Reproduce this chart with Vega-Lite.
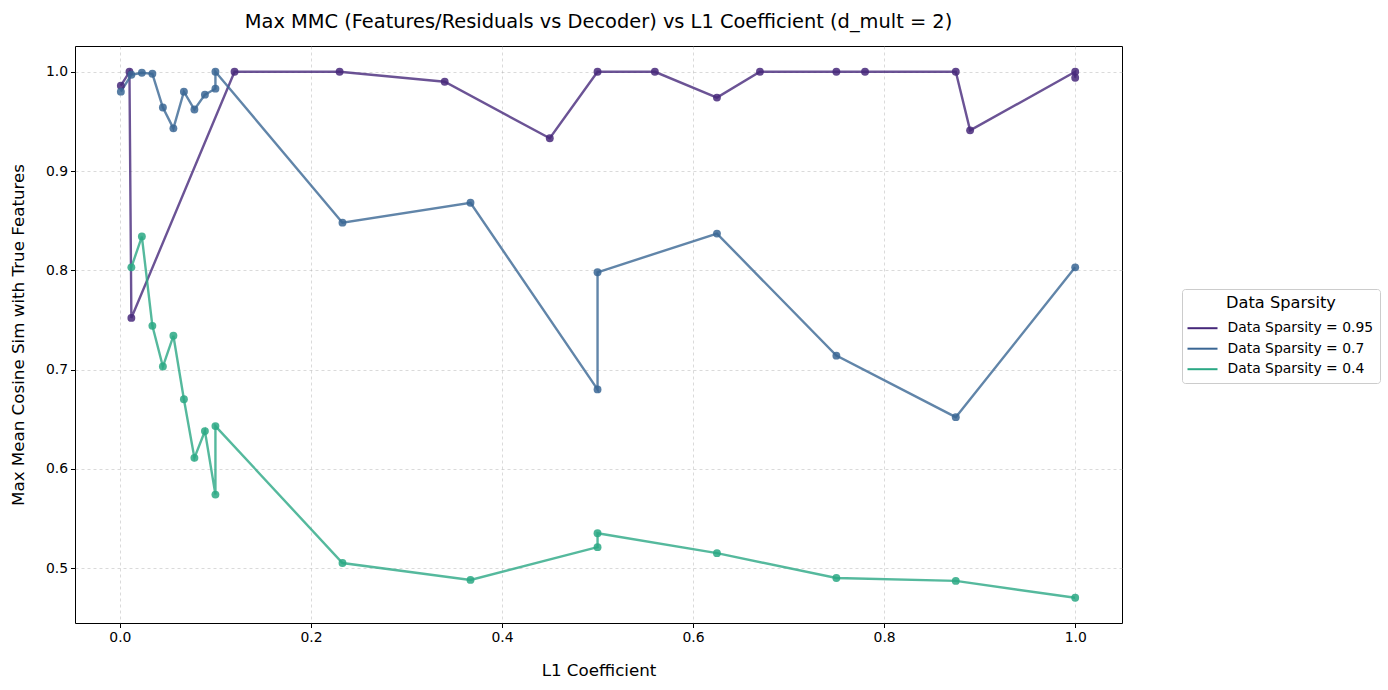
{
  "$schema": "https://vega.github.io/schema/vega-lite/v6.json",
  "autosize": {"type": "none"},
  "width": 1047,
  "height": 577,
  "padding": {"left": 75, "top": 46, "right": 266, "bottom": 67},
  "background": "white",
  "title": {"text": "Max MMC (Features/Residuals vs Decoder) vs L1 Coefficient (d_mult = 2)", "fontSize": 19.4, "fontWeight": "normal", "font": "DejaVu Sans", "color": "black", "anchor": "middle", "offset": 14},
  "config": {
    "view": {"stroke": "black", "strokeWidth": 1},
    "font": "DejaVu Sans",
    "axis": {"labelFont": "DejaVu Sans", "titleFont": "DejaVu Sans", "labelFontSize": 13.9, "titleFontSize": 16.7, "titleFontWeight": "normal", "labelColor": "black", "titleColor": "black", "tickColor": "black", "tickSize": 4.5, "labelPadding": 3, "domain": false, "grid": true, "gridColor": "#b0b0b0", "gridDash": [3, 3], "gridWidth": 0.6, "gridOpacity": 0.8}
  },
  "data": {"values": [
    {"s": "Data Sparsity = 0.95", "i": 1, "x": 0.001, "y": 0.986},
    {"s": "Data Sparsity = 0.95", "i": 2, "x": 0.010, "y": 1.0},
    {"s": "Data Sparsity = 0.95", "i": 3, "x": 0.012, "y": 0.752},
    {"s": "Data Sparsity = 0.95", "i": 4, "x": 0.120, "y": 1.0},
    {"s": "Data Sparsity = 0.95", "i": 5, "x": 0.230, "y": 1.0},
    {"s": "Data Sparsity = 0.95", "i": 6, "x": 0.340, "y": 0.990},
    {"s": "Data Sparsity = 0.95", "i": 7, "x": 0.450, "y": 0.933},
    {"s": "Data Sparsity = 0.95", "i": 8, "x": 0.500, "y": 1.0},
    {"s": "Data Sparsity = 0.95", "i": 9, "x": 0.560, "y": 1.0},
    {"s": "Data Sparsity = 0.95", "i": 10, "x": 0.625, "y": 0.974},
    {"s": "Data Sparsity = 0.95", "i": 11, "x": 0.670, "y": 1.0},
    {"s": "Data Sparsity = 0.95", "i": 12, "x": 0.750, "y": 1.0},
    {"s": "Data Sparsity = 0.95", "i": 13, "x": 0.780, "y": 1.0},
    {"s": "Data Sparsity = 0.95", "i": 14, "x": 0.875, "y": 1.0},
    {"s": "Data Sparsity = 0.95", "i": 15, "x": 0.890, "y": 0.941},
    {"s": "Data Sparsity = 0.95", "i": 16, "x": 1.000, "y": 1.0},
    {"s": "Data Sparsity = 0.95", "i": 17, "x": 1.000, "y": 0.994},
    {"s": "Data Sparsity = 0.7", "i": 1, "x": 0.001, "y": 0.980},
    {"s": "Data Sparsity = 0.7", "i": 2, "x": 0.012, "y": 0.997},
    {"s": "Data Sparsity = 0.7", "i": 3, "x": 0.023, "y": 0.999},
    {"s": "Data Sparsity = 0.7", "i": 4, "x": 0.034, "y": 0.998},
    {"s": "Data Sparsity = 0.7", "i": 5, "x": 0.045, "y": 0.964},
    {"s": "Data Sparsity = 0.7", "i": 6, "x": 0.056, "y": 0.943},
    {"s": "Data Sparsity = 0.7", "i": 7, "x": 0.067, "y": 0.980},
    {"s": "Data Sparsity = 0.7", "i": 8, "x": 0.078, "y": 0.962},
    {"s": "Data Sparsity = 0.7", "i": 9, "x": 0.089, "y": 0.977},
    {"s": "Data Sparsity = 0.7", "i": 10, "x": 0.100, "y": 0.983},
    {"s": "Data Sparsity = 0.7", "i": 11, "x": 0.100, "y": 1.0},
    {"s": "Data Sparsity = 0.7", "i": 12, "x": 0.233, "y": 0.848},
    {"s": "Data Sparsity = 0.7", "i": 13, "x": 0.367, "y": 0.868},
    {"s": "Data Sparsity = 0.7", "i": 14, "x": 0.500, "y": 0.680},
    {"s": "Data Sparsity = 0.7", "i": 15, "x": 0.500, "y": 0.798},
    {"s": "Data Sparsity = 0.7", "i": 16, "x": 0.625, "y": 0.837},
    {"s": "Data Sparsity = 0.7", "i": 17, "x": 0.750, "y": 0.714},
    {"s": "Data Sparsity = 0.7", "i": 18, "x": 0.875, "y": 0.652},
    {"s": "Data Sparsity = 0.7", "i": 19, "x": 1.000, "y": 0.803},
    {"s": "Data Sparsity = 0.4", "i": 1, "x": 0.012, "y": 0.803},
    {"s": "Data Sparsity = 0.4", "i": 2, "x": 0.023, "y": 0.834},
    {"s": "Data Sparsity = 0.4", "i": 3, "x": 0.034, "y": 0.744},
    {"s": "Data Sparsity = 0.4", "i": 4, "x": 0.045, "y": 0.703},
    {"s": "Data Sparsity = 0.4", "i": 5, "x": 0.056, "y": 0.734},
    {"s": "Data Sparsity = 0.4", "i": 6, "x": 0.067, "y": 0.670},
    {"s": "Data Sparsity = 0.4", "i": 7, "x": 0.078, "y": 0.611},
    {"s": "Data Sparsity = 0.4", "i": 8, "x": 0.089, "y": 0.638},
    {"s": "Data Sparsity = 0.4", "i": 9, "x": 0.100, "y": 0.574},
    {"s": "Data Sparsity = 0.4", "i": 10, "x": 0.100, "y": 0.643},
    {"s": "Data Sparsity = 0.4", "i": 11, "x": 0.233, "y": 0.505},
    {"s": "Data Sparsity = 0.4", "i": 12, "x": 0.367, "y": 0.488},
    {"s": "Data Sparsity = 0.4", "i": 13, "x": 0.500, "y": 0.521},
    {"s": "Data Sparsity = 0.4", "i": 14, "x": 0.500, "y": 0.535},
    {"s": "Data Sparsity = 0.4", "i": 15, "x": 0.625, "y": 0.515},
    {"s": "Data Sparsity = 0.4", "i": 16, "x": 0.750, "y": 0.490},
    {"s": "Data Sparsity = 0.4", "i": 17, "x": 0.875, "y": 0.487},
    {"s": "Data Sparsity = 0.4", "i": 18, "x": 1.000, "y": 0.470}
  ]},
  "encoding": {
    "x": {"field": "x", "type": "quantitative", "scale": {"domain": [-0.047, 1.049], "nice": false, "zero": false}, "axis": {"title": "L1 Coefficient", "values": [0, 0.2, 0.4, 0.6, 0.8, 1.0], "format": ".1f", "titlePadding": 18}},
    "y": {"field": "y", "type": "quantitative", "scale": {"domain": [0.4446, 1.026], "nice": false, "zero": false}, "axis": {"title": "Max Mean Cosine Sim with True Features", "values": [0.5, 0.6, 0.7, 0.8, 0.9, 1.0], "format": ".1f", "titlePadding": 18}},
    "color": {"field": "s", "type": "nominal", "scale": {"domain": ["Data Sparsity = 0.95", "Data Sparsity = 0.7", "Data Sparsity = 0.4"], "range": ["#46287a", "#3a6694", "#2aa884"]}}
  },
  "layer": [
    {
      "mark": {"type": "line", "strokeWidth": 2.4, "opacity": 0.8},
      "encoding": {
        "order": {"field": "i", "type": "quantitative"},
        "color": {"field": "s", "type": "nominal", "legend": {"title": "Data Sparsity", "orient": "none", "legendX": 1107, "legendY": 243, "titleFontSize": 16.2, "titleFontWeight": "normal", "titleFont": "DejaVu Sans", "titleAnchor": "middle", "titleColor": "black", "labelFontSize": 13.9, "labelFont": "DejaVu Sans", "labelColor": "black", "symbolType": "M-1.5,0H1.5", "symbolStrokeWidth": 2, "symbolSize": 400, "symbolOffset": 3.5, "symbolOpacity": 1, "strokeColor": "#cccccc", "fillColor": "white", "padding": 6, "cornerRadius": 3, "rowPadding": 2.5, "titlePadding": 6, "labelOffset": 14}}
      }
    },
    {
      "mark": {"type": "point", "filled": true, "size": 62, "opacity": 0.85},
      "encoding": {
        "color": {"field": "s", "type": "nominal", "legend": null}
      }
    }
  ]
}
